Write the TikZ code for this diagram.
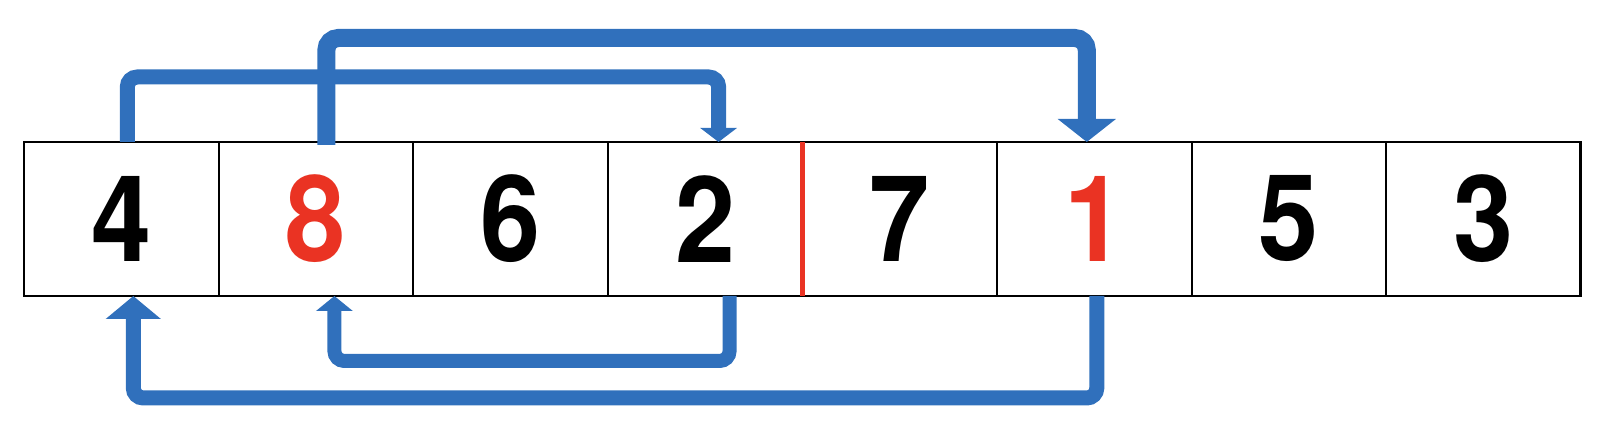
\documentclass[tikz,border=0pt]{standalone}
\usepackage{fontspec}
\newfontfamily\digitfont{TeX Gyre Heros}[FakeStretch=0.9]
\usetikzlibrary{arrows.meta,positioning}
\definecolor{flowblue}{RGB}{48,112,188}
\definecolor{hotred}{RGB}{234,51,35}

\begin{document}
\begin{tikzpicture}[node distance=0pt,
  cell/.style={draw,line width=1pt,minimum width=97.3pt,minimum height=77pt,inner sep=0pt,outer sep=0pt,
    font=\digitfont\bfseries\fontsize{60}{60}\selectfont},
  hot/.style={text=hotred},
  flow/.style={draw=flowblue,line width=7.5pt,rounded corners=5pt},
  bigflow/.style={flow,line width=9pt,rounded corners=6pt}]
\useasboundingbox (0,0) rectangle (807pt,-216pt);
\node[cell,anchor=north west] (c1) at (12pt,-71pt) {4};
\node[cell,hot,right=of c1] (c2) {8};
\node[cell,right=of c2] (c3) {6};
\node[cell,right=of c3] (c4) {2};
\node[cell,right=of c4] (c5) {7};
\node[cell,hot,right=of c5] (c6) {1};
\node[cell,right=of c6] (c7) {5};
\node[cell,right=of c7] (c8) {3};
\draw[line width=1.4pt] (c1.north west) rectangle (c8.south east);
\draw[hotred,line width=2.5pt] (c4.north east) -- (c4.south east);
% swaps above the row
\draw[flow,-{Triangle[width=18pt,length=7pt]}] ([xshift=3pt]c1.north) -- ++(0,32.5pt) -| ([xshift=6.75pt]c4.north);
\draw[bigflow,-{Triangle[width=28.5pt,length=11.5pt]}] ([xshift=5.25pt,yshift=-1.5pt]c2.north) -- ++(0,53.5pt) -| ([xshift=-3.75pt]c6.north);
% swaps below the row
\draw[flow,line width=7pt,-{Triangle[width=18pt,length=7.5pt]}] ([xshift=12.25pt]c4.south) -- ++(0,-32.5pt) -| ([xshift=9.25pt]c2.south);
\draw[flow,-{Triangle[width=27pt,length=11.5pt]}] ([xshift=1.25pt]c6.south) -- ++(0,-51pt) -| ([xshift=6pt]c1.south);
\end{tikzpicture}
\end{document}
